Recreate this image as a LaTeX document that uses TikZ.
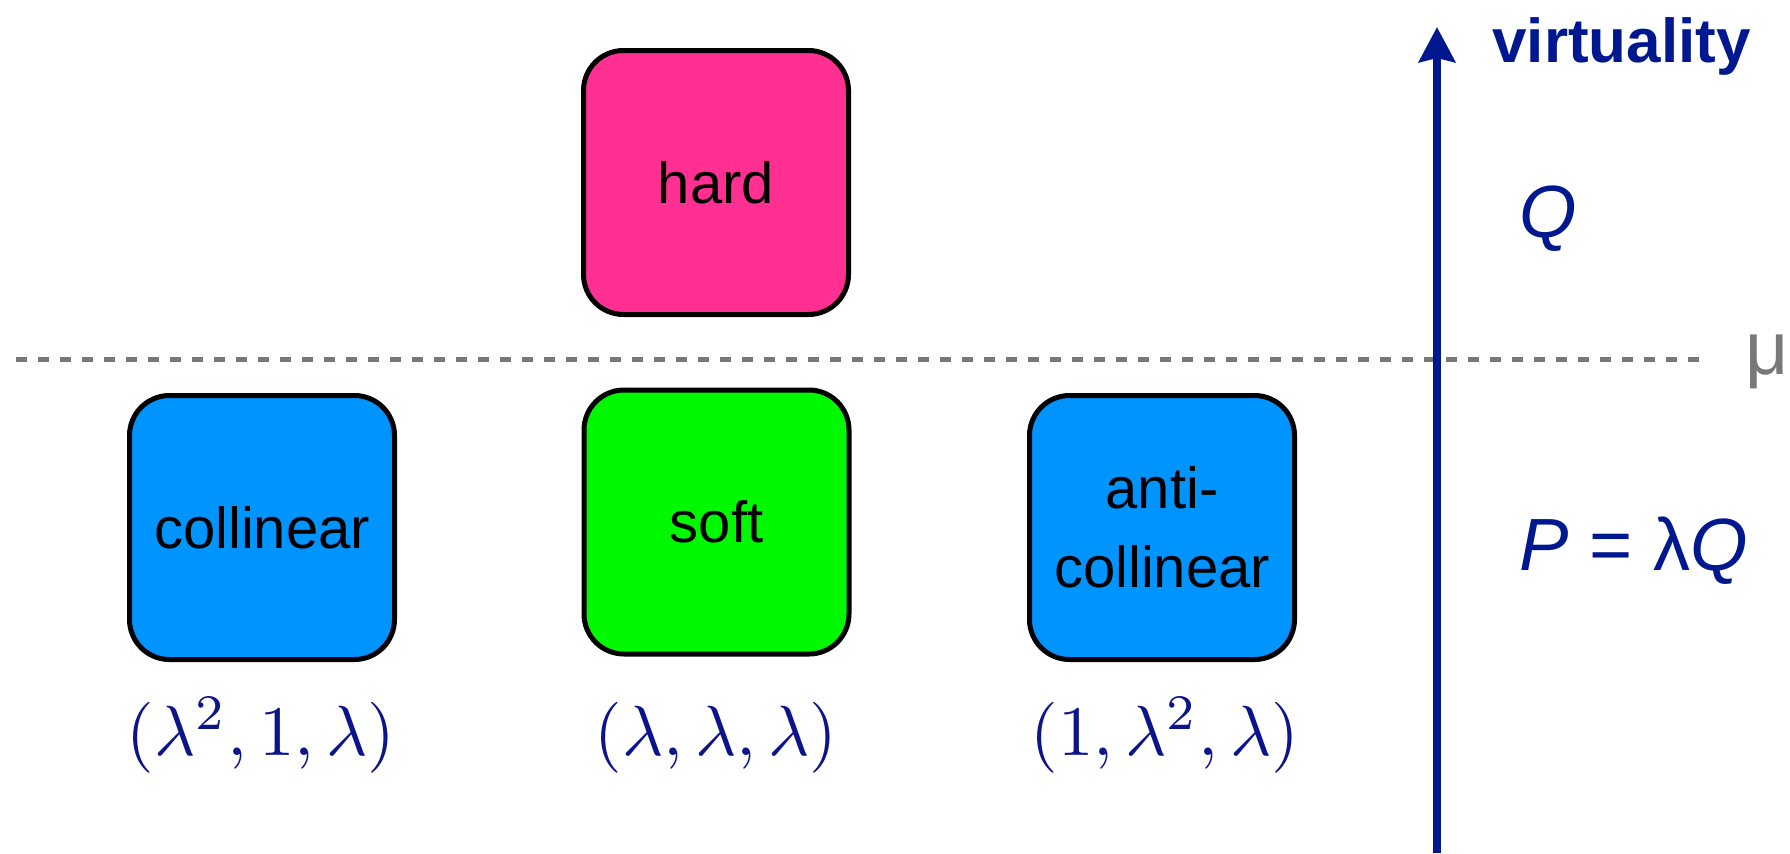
\RequirePackage{fix-cm}
\documentclass[tikz,border=0pt]{standalone}
\usepackage{graphicx}
\usepackage{fontspec}
\setmainfont{Liberation Sans}
\usetikzlibrary{arrows.meta}

\definecolor{hardpink}{RGB}{255,48,145}
\definecolor{collblue}{RGB}{0,148,255}
\definecolor{softgreen}{RGB}{0,248,0}
\definecolor{axisblue}{RGB}{0,24,143}
\definecolor{labelblue}{RGB}{12,20,138}
\definecolor{scalegray}{RGB}{120,120,120}

% power-counting label: 10pt math enlarged as a whole
\newcommand{\pclabel}[1]{\scalebox{3.55}{$#1$}}

\begin{document}
\begin{tikzpicture}[x=0.5pt,y=-0.5pt,
  region/.style={draw=black, line width=2.5pt, rounded corners=20pt,
    minimum width=132.5pt, minimum height=132pt, inner sep=0pt,
    align=center, font=\fontsize{29}{39.5}\selectfont},
  scaling/.style={text=labelblue, anchor=base, inner sep=0pt,
    font=\normalsize},
  axislabel/.style={text=axisblue, anchor=base west, inner sep=0pt,
    font=\fontsize{37}{44}\selectfont},
  scaleline/.style={draw=scalegray, line width=2.5pt,
    dash pattern=on 5.5pt off 5.5pt},
  axis/.style={draw=axisblue, line width=4pt,
    -{Stealth[length=17.5pt, width=18pt, inset=2pt]}}]
\useasboundingbox (0,0) rectangle (1790,853);

% separation scale mu
\coordinate (dashL) at (16,359);
\coordinate (dashR) at (1705,359);
\draw[scaleline] (dashL) -- (dashR);
\node[anchor=base west, inner sep=0pt, text=scalegray,
  font=\fontsize{37.5}{44}\selectfont] (mu) at (1745,374) {μ};

% virtuality axis
\coordinate (axisbot) at (1437,853);
\coordinate (axistop) at (1437,27);
\draw[axis] (axisbot) -- (axistop);
\node[anchor=base west, inner sep=0pt, text=axisblue,
  font=\fontsize{31}{36}\selectfont\bfseries] (virt) at (1492,62) {virtuality};
\node[axislabel] (Q) at (1519,237) {\textit{Q}};
\node[axislabel] (P) at (1519,570) {\textit{P} = λ\textit{Q}};

% momentum regions
\node[region, fill=hardpink] (hard) at (716,182.5) {hard};
\node[region, fill=collblue] (coll) at (262,527.5) {collinear};
\node[region, fill=softgreen] (soft) at (716.5,522) {soft};
\node[region, fill=collblue] (anti) at (1162,527.5) {anti-\\collinear};

% power counting of the momentum components
\node[scaling] (collscale) at (261,755) {\pclabel{(\lambda^2,1,\lambda)}};
\node[scaling] (softscale) at (716,755) {\pclabel{(\lambda,\lambda,\lambda)}};
\node[scaling] (antiscale) at (1165,755) {\pclabel{(1,\lambda^2,\lambda)}};
\end{tikzpicture}
\end{document}
